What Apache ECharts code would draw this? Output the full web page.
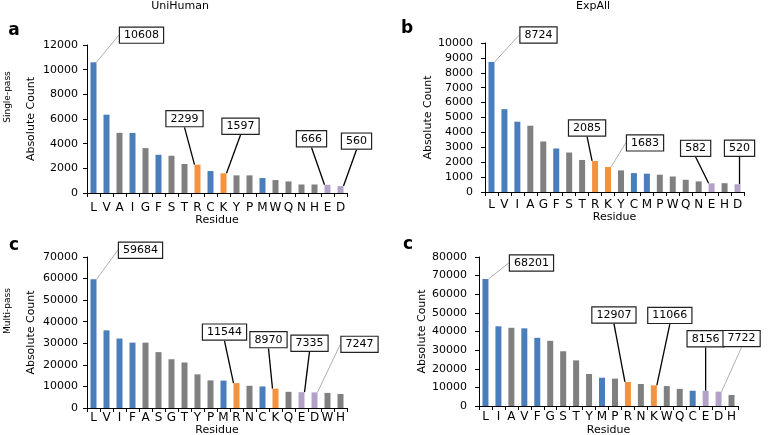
<!DOCTYPE html>
<html><head><meta charset="utf-8">
<script src="https://cdn.jsdelivr.net/npm/echarts@6/dist/echarts.min.js"></script>
<style>html,body{margin:0;padding:0;background:#fff}#c{width:779px;height:435px}</style>
</head><body><div id="c"></div><script>
// ---- data ----
const catsA = ['L','V','A','I','G','F','S','T','R','C','K','Y','P','M','W','Q','N','H','E','D'];
const valsA = [10608,6350,4880,4870,3640,3100,3020,2350,2299,1780,1597,1430,1430,1213,1050,940,690,690,666,560];
const classA = ['h','h','n','h','n','h','n','n','p','h','p','n','n','h','n','n','n','n','a','a'];

const catsB = ['L','V','I','A','G','F','S','T','R','K','Y','C','M','P','W','Q','N','E','H','D'];
const valsB = [8724,5560,4720,4450,3390,2920,2650,2150,2085,1683,1450,1270,1230,1160,1040,820,710,582,590,520];
const classB = ['h','h','h','n','n','h','n','n','p','p','n','h','h','n','n','n','n','a','n','a'];

const catsC = ['L','V','I','F','A','S','G','T','Y','P','M','R','N','C','K','Q','E','D','W','H'];
const valsC = [59684,36000,32200,30300,30300,25900,22600,21100,15600,12800,12700,11544,10300,10000,8970,7500,7335,7247,7000,6500];
const classC = ['h','h','h','h','n','n','n','n','n','n','h','p','n','h','p','n','a','a','n','n'];

const catsD = ['L','I','A','V','F','G','S','T','Y','M','P','R','N','K','W','Q','C','E','D','H'];
const valsD = [68201,42800,42000,41700,36600,35000,29400,24500,17200,15200,14700,12907,11800,11066,10700,9200,8200,8156,7722,5900];
const classD = ['h','h','n','h','h','n','n','n','n','h','n','p','n','p','n','n','h','a','a','n'];

const yMaxes = [12000, 10000, 70000, 80000];
const yIntervals = [2000, 1000, 10000, 10000];

// ---- styles / layout ----
const FONT = 'DejaVu Sans';
const classColor = { h: '#4a7ebb', n: '#808080', p: '#f5923e', a: '#b3a2c8' };
// callouts: index -> [dx, dy, thin?] offset of label box centre from bar top centre
const callouts = [
  {0:[48,-27,1], 8:[-13,-46,0], 10:[17,-47,0], 18:[-16,-46,0], 19:[16,-45,0]},
  {0:[47,-27,1], 8:[-8,-33,0], 9:[37,-24,1], 17:[-16,-35,0], 19:[2,-36,0]},
  {0:[47,-29,1], 11:[-12,-51,0], 14:[-7,-49,0], 16:[8,-49,0], 17:[45,-48,1]},
  {0:[46,-16,1], 11:[-14,-67,0], 13:[16,-70,0], 17:[0,-52,0], 18:[23,-53,1]}
];
const grids = [
  {left:87, right:432, top:45, bottom:242},
  {left:485, right:35, top:43, bottom:243},
  {left:87, right:432, top:257, bottom:27},
  {left:479, right:41, top:257, bottom:29}
];
const xMargins = [9, 7, 4, 5];
const xNameGaps = [19, 18, 16, 19];
const yMargins = [9, 12, 9, 12];

const panels = [[catsA, valsA, classA],[catsB, valsB, classB],[catsC, valsC, classC],[catsD, valsD, classD]];

const option = {
  backgroundColor: '#fff',
  animation: false,
  textStyle: { fontFamily: FONT },
  grid: grids.map(g => Object.assign({containLabel:false, outerBoundsMode:'none'}, g)),
  xAxis: panels.map((p, i) => ({
    type: 'category', gridIndex: i, data: p[0],
    axisLine: { lineStyle: { color: '#000', width: 1 } },
    axisTick: { show: true, length: 4, lineStyle: { color: '#000' } },
    axisLabel: { interval: 0, fontSize: 12, color: '#000', margin: xMargins[i], fontFamily: FONT },
    name: 'Residue', nameLocation: 'middle', nameGap: xNameGaps[i],
    nameTextStyle: { fontSize: 11, color: '#000', fontFamily: FONT, verticalAlign: 'top' },
    splitLine: { show: false }
  })),
  yAxis: panels.map((p, i) => ({
    type: 'value', gridIndex: i, min: 0, max: yMaxes[i], interval: yIntervals[i],
    axisLine: { show: true, lineStyle: { color: '#000', width: 1 } },
    axisTick: { show: true, length: 4, lineStyle: { color: '#000' } },
    axisLabel: { fontSize: 11, color: '#000', margin: yMargins[i], fontFamily: FONT, formatter: v => String(v) },
    splitLine: { show: false },
    name: 'Absolute Count', nameLocation: 'middle', nameGap: 50,
    nameTextStyle: { fontSize: 11, color: '#000', fontFamily: FONT }
  })),
  series: panels.map((p, i) => {
    const co = callouts[i];
    return {
      type: 'bar', xAxisIndex: i, yAxisIndex: i, barWidth: 6,
      data: p[1].map((v, j) => {
        const item = { value: v, itemStyle: { color: classColor[p[2][j]] } };
        if (co[j]) {
          item.label = { show: true };
          item.labelLine = { show: true, lineStyle: co[j][2] ? { color: '#9a9a9a', width: 0.8 } : { color: '#000', width: 1.3 } };
        }
        return item;
      }),
      label: {
        show: false, position: 'top', formatter: '{c}',
        fontSize: 11, color: '#000', fontFamily: FONT,
        backgroundColor: '#fff', borderColor: '#222', borderWidth: 1.2,
        padding: [2, 4, 1, 4], lineHeight: 12
      },
      labelLine: { show: true },
      labelLayout: function (params) {
        const c = co[params.dataIndex];
        if (!c) return {};
        const r = params.rect;
        return { x: r.x + r.width / 2 + c[0], y: r.y + c[1], align: 'center', verticalAlign: 'middle' };
      }
    };
  }),
  graphic: [
    { type: 'text', x: 180, y: 6, style: { text: 'UniHuman', font: '11px "DejaVu Sans"', fill: '#000', textAlign: 'center', textVerticalAlign: 'middle' } },
    { type: 'text', x: 593, y: 6, style: { text: 'ExpAll', font: '11px "DejaVu Sans"', fill: '#000', textAlign: 'center', textVerticalAlign: 'middle' } },
    { type: 'text', x: 14, y: 31, style: { text: 'a', font: 'bold 17px "DejaVu Sans"', fill: '#000', textAlign: 'center', textVerticalAlign: 'middle' } },
    { type: 'text', x: 407, y: 29, style: { text: 'b', font: 'bold 17px "DejaVu Sans"', fill: '#000', textAlign: 'center', textVerticalAlign: 'middle' } },
    { type: 'text', x: 14, y: 246, style: { text: 'c', font: 'bold 17px "DejaVu Sans"', fill: '#000', textAlign: 'center', textVerticalAlign: 'middle' } },
    { type: 'text', x: 408, y: 245, style: { text: 'c', font: 'bold 17px "DejaVu Sans"', fill: '#000', textAlign: 'center', textVerticalAlign: 'middle' } },
    { type: 'text', x: 8, y: 97, rotation: Math.PI / 2, style: { text: 'Single-pass', font: '9px "DejaVu Sans"', fill: '#000', textAlign: 'center', textVerticalAlign: 'middle' } },
    { type: 'text', x: 8, y: 311, rotation: Math.PI / 2, style: { text: 'Multi-pass', font: '9px "DejaVu Sans"', fill: '#000', textAlign: 'center', textVerticalAlign: 'middle' } }
  ]
};
const chart = echarts.init(document.getElementById('c'), null, { renderer: 'canvas' });
chart.setOption(option);
</script></body></html>
